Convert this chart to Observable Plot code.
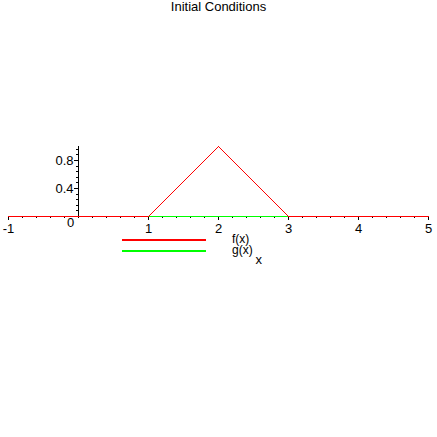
<!DOCTYPE html>
<html>
<head>
<meta charset="utf-8">
<script src="https://cdn.jsdelivr.net/npm/d3@7"></script>
<script src="https://cdn.jsdelivr.net/npm/@observablehq/plot@0.6"></script>
<style>
  html, body { margin: 0; padding: 0; background: #fff; }
  #wrap { position: relative; width: 437px; height: 437px; font-family: "Liberation Sans", Arial, sans-serif; font-size: 12px; }
  .leg { position: absolute; display: flex; align-items: center; height: 11px; }
  .leg span { margin-left: 26px; line-height: 11px; font-size: 12px; }
</style>
</head>
<body>
<div id="wrap"></div>
<script>
// ---- data ----
const title = "Initial Conditions";
const xLabel = "x";
const fX = [-1, 1, 2, 3, 5];
const fY = [0, 0, 1, 0, 0];
const gX = [-1, 5];
const gY = [0, 0];
const seriesNames = ["f(x)", "g(x)"];
const seriesColors = ["#ff0000", "#00ff00"];
const xMajorTicks = [-1, 1, 2, 3, 4, 5];
const xMinorTicks = d3.range(-1, 5.0001, 0.2).map(v => +v.toFixed(1));
const yMajorTicks = [0.4, 0.8];
const yMinorTicks = d3.range(0.08, 1.0001, 0.08).map(v => +v.toFixed(2));
const originLabel = ["0"];

const fData = fX.map((x, i) => ({x, y: fY[i]}));
const gData = gX.map((x, i) => ({x, y: gY[i]}));

const chart = Plot.plot({
  width: 437,
  height: 437,
  marginLeft: 8,
  marginRight: 9,
  marginTop: 146,
  marginBottom: 221,
  style: {fontFamily: "Liberation Sans, Arial, sans-serif", fontSize: "13px", background: "white", color: "black", overflow: "visible"},
  x: {domain: [-1, 5]},
  y: {domain: [0, 1], axis: null},
  marks: [
    Plot.text([title], {frameAnchor: "top", dy: -140, lineAnchor: "middle", fontSize: 13}),
    // x axis ticks
    Plot.axisX({ticks: xMinorTicks, tickSize: 2, text: null, label: null}),
    Plot.axisX({ticks: xMajorTicks, tickSize: 4, tickPadding: 3, tickFormat: d => String(d), label: null, fontSize: 13}),
    // y axis at x = 0
    Plot.ruleX([0], {y1: 0, y2: 1, stroke: "black"}),
    Plot.ruleY(yMinorTicks, {x1: () => 0, x2: () => 0, insetLeft: -2, stroke: "black", shapeRendering: "crispEdges"}),
    Plot.ruleY(yMajorTicks, {x1: () => 0, x2: () => 0, insetLeft: -4, stroke: "black", shapeRendering: "crispEdges"}),
    Plot.text(yMajorTicks, {x: () => 0, y: d => d, text: d => String(d), textAnchor: "end", dx: -5, fontSize: 13}),
    Plot.text(originLabel, {x: () => 0, y: () => 0, text: d => d, dx: -8, dy: 6, fontSize: 13}),
    // curves
    Plot.line(gData, {x: "x", y: "y", stroke: seriesColors[1], strokeWidth: 1, shapeRendering: "crispEdges"}),
    Plot.line(fData, {x: "x", y: "y", stroke: seriesColors[0], strokeWidth: 1, shapeRendering: "crispEdges"}),
    // x axis label
    Plot.text([xLabel], {frameAnchor: "bottom-left", dx: 247, dy: 43, lineAnchor: "middle", fontSize: 13})
  ]
});

const wrap = document.getElementById("wrap");
wrap.appendChild(chart);

// legend (overlay below the axis)
seriesNames.forEach((name, i) => {
  const row = document.createElement("div");
  row.className = "leg";
  row.style.left = "122px";
  row.style.top = (234 + i * 11) + "px";
  row.innerHTML = `<svg width="84" height="11"><line x1="0" x2="84" y1="5.5" y2="5.5" stroke="${seriesColors[i]}" stroke-width="2" shape-rendering="crispEdges"/></svg><span>${name}</span>`;
  wrap.appendChild(row);
});
chart.style.position = "absolute";
chart.style.left = "0";
chart.style.top = "0";
</script>
</body>
</html>
